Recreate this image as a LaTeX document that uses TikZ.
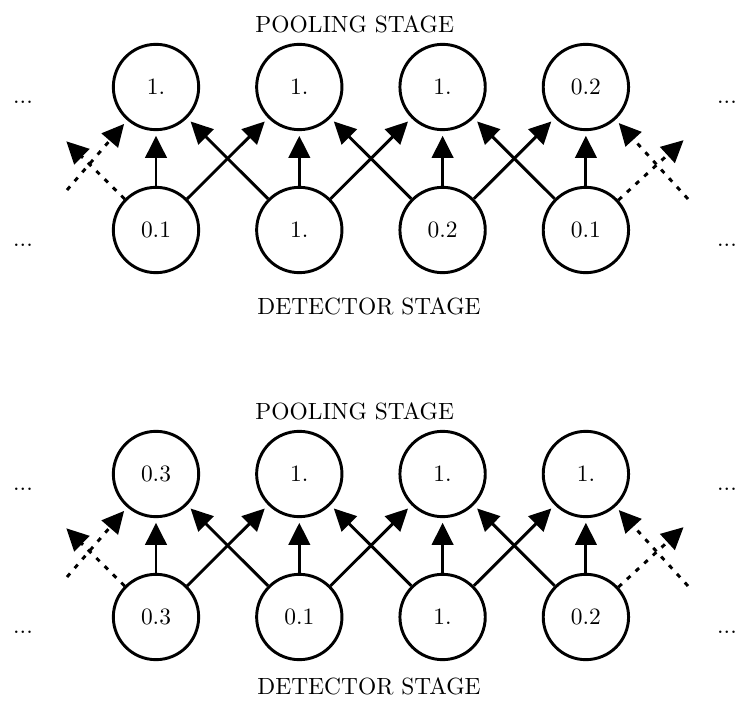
\documentclass[tikz,border=0pt]{standalone}
\usetikzlibrary{arrows.meta}

\tikzset{
	unit/.style={circle,draw,line width=1.25pt,minimum size=1.28cm,inner sep=0pt},
	link/.style={line width=1.25pt,-{Triangle[length=3.3mm,width=3.2mm]},shorten >=2pt},
	ghost/.style={link,dash pattern=on 2pt off 3pt},
	stage/.style={anchor=west,inner sep=0pt},
}

\begin{document}
\begin{tikzpicture}[x=0.015cm,y=-0.015cm]
	\useasboundingbox (0,0) rectangle (749,705);
	% a = first pair of layers, b = same layers after a shift of the input
	\foreach \k/\dy/\ly/\pvals/\dvals in {a/0/306/{1.,1.,1.,0.2}/{0.1,1.,0.2,0.1},b/387/299/{0.3,1.,1.,1.}/{0.3,0.1,1.,0.2}}{
		\begin{scope}[shift={(0,\dy)}]
			\node[stage] (\k-pool) at (255,24) {POOLING STAGE};
			\node[stage] (\k-det) at (257,\ly) {DETECTOR STAGE};
			% pooling units on top, detector units below
			\foreach \v [count=\i] in \pvals
				\node[unit] (\k-p\i) at ({156+143.3*(\i-1)},87) {\v};
			\foreach \v [count=\i] in \dvals
				\node[unit] (\k-d\i) at ({156+143.3*(\i-1)},230) {\v};
			\node (\k-l1) at (23,102) {...};
			\node (\k-l2) at (23,245) {...};
			\node (\k-r1) at (727,102) {...};
			\node (\k-r2) at (727,245) {...};
			% each pooling unit sees its neighbours
			\foreach \i in {1,...,4}
				\draw[link] (\k-d\i) -- (\k-p\i);
			\foreach \i in {1,2,3}{
				\pgfmathtruncatemacro{\j}{\i+1}
				\draw[link] (\k-d\i) -- (\k-p\j);
				\draw[link] (\k-d\j) -- (\k-p\i);
			}
			% links to units outside the picture
			\coordinate (\k-lo) at (67,190);
			\coordinate (\k-lt) at (63,138);
			\coordinate (\k-ro) at (688,199);
			\coordinate (\k-rt) at (687,137);
			\draw[ghost] (\k-d1) -- (\k-lt);
			\draw[ghost] (\k-lo) -- (\k-p1);
			\draw[ghost] (\k-d4) -- (\k-rt);
			\draw[ghost] (\k-ro) -- (\k-p4);
		\end{scope}
	}
\end{tikzpicture}
\end{document}
